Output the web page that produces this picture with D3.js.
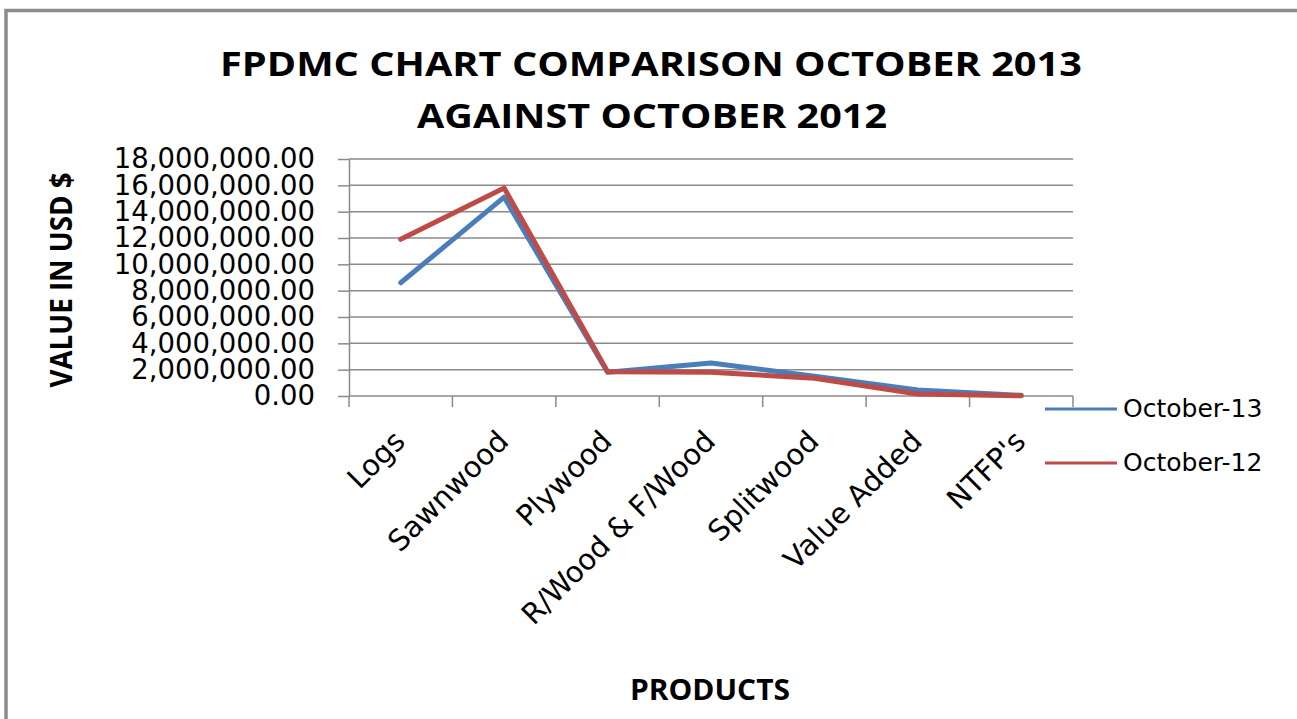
<!DOCTYPE html>
<meta charset="utf-8">
<style>
body{margin:0;background:#fff;}
text{font-family:"DejaVu Sans",sans-serif;fill:#000;}
.title{font-family:"Liberation Sans Narrow","Open Sans",sans-serif;font-weight:bold;font-size:34px;text-anchor:middle;}
.axisTitle{font-family:"Liberation Sans Narrow","Open Sans",sans-serif;font-weight:bold;font-size:28px;text-anchor:middle;}
.grid line{stroke:#8a8a8a;stroke-width:1.5px;}
.yaxis path,.yaxis line,.xaxis line{stroke:#8a8a8a;stroke-width:1.5px;}
.yaxis text{font-size:27.5px;font-family:"DejaVu Sans",sans-serif;}
.catLabel{font-size:29px;text-anchor:end;}
.series{fill:none;stroke-width:5px;stroke-linejoin:round;stroke-linecap:round;}
.legend text{font-size:25px;}
</style>
<body>
<div id="chart"></div>
<script src="https://cdn.jsdelivr.net/npm/d3@7/dist/d3.min.js"></script>
<script>
var products = ["Logs","Sawnwood","Plywood","R/Wood & F/Wood","Splitwood","Value Added","NTFP's"];
var oct13 = [8600000,15100000,1800000,2500000,1500000,450000,50000];
var oct12 = [11900000,15800000,1850000,1800000,1350000,150000,20000];
var seriesNames = ["October-13","October-12"];
var seriesColors = ["#4a7ebb","#be4b48"];
var yTicks = [0,2000000,4000000,6000000,8000000,10000000,12000000,14000000,16000000,18000000];

var W = 1297, H = 719;
var svg = d3.select("#chart").append("svg").attr("width",W).attr("height",H);

// frame
svg.append("rect").attr("x",6).attr("y",10.5).attr("width",W+20).attr("height",H+20)
    .attr("fill","#fff").attr("stroke","#8c8c8c").attr("stroke-width",3.5);

var x = d3.scaleBand().domain(products).range([349,1073]);
var y = d3.scaleLinear().domain([0,18000000]).range([396,159]);

// gridlines
svg.append("g").attr("class","grid").selectAll("line").data(yTicks.slice(1)).enter().append("line")
    .attr("x1",349).attr("x2",1073).attr("y1",d=>y(d)).attr("y2",d=>y(d));

// y axis
svg.append("g").attr("class","yaxis").attr("transform","translate(349,0)")
    .call(d3.axisLeft(y).tickValues(yTicks).tickSize(11).tickSizeOuter(0).tickPadding(23)
        .tickFormat(d3.format(",.2f")));

// x axis (ticks between categories)
var xa = svg.append("g").attr("class","xaxis");
xa.append("line").attr("x1",349).attr("x2",1073).attr("y1",y(0)).attr("y2",y(0));
xa.selectAll(".tk").data(products.map(p=>x(p)).concat([x.range()[1]])).enter().append("line")
    .attr("class","tk").attr("x1",d=>d).attr("x2",d=>d).attr("y1",y(0)).attr("y2",y(0)+11);

svg.append("g").selectAll("text").data(products).enter().append("text")
    .attr("class","catLabel")
    .attr("transform",d=>"translate("+(x(d)+x.bandwidth()/2+6)+","+(y(0)+47)+") rotate(-45)")
    .text(d=>d);

// lines
var line = d3.line().x((d,i)=>x(products[i])+x.bandwidth()/2).y(d=>y(d));
[oct13,oct12].forEach(function(s,i){
    svg.append("path").attr("class","series").attr("d",line(s)).attr("stroke",seriesColors[i]);
});

// titles
svg.append("text").attr("class","title").attr("x",651).attr("y",76)
    .attr("textLength",862).attr("lengthAdjust","spacingAndGlyphs")
    .text("FPDMC CHART COMPARISON OCTOBER 2013");
svg.append("text").attr("class","title").attr("x",652).attr("y",128)
    .attr("textLength",470).attr("lengthAdjust","spacingAndGlyphs")
    .text("AGAINST OCTOBER 2012");
svg.append("text").attr("class","axisTitle").attr("x",710).attr("y",700)
    .attr("textLength",160).attr("lengthAdjust","spacingAndGlyphs")
    .text("PRODUCTS");
svg.append("text").attr("class","axisTitle").attr("transform","translate(72,280) rotate(-90)")
    .attr("textLength",215).attr("lengthAdjust","spacingAndGlyphs").style("font-size","31px")
    .text("VALUE IN USD $");

// legend
var lg = svg.append("g").attr("class","legend").selectAll("g").data(seriesNames).enter().append("g")
    .attr("transform",(d,i)=>"translate(1045,"+(409+i*54)+")");
lg.append("line").attr("x1",0).attr("x2",72).attr("stroke",(d,i)=>seriesColors[i]).attr("stroke-width",3);
lg.append("text").attr("x",78).attr("y",8).text(d=>d);
</script>
</body>
